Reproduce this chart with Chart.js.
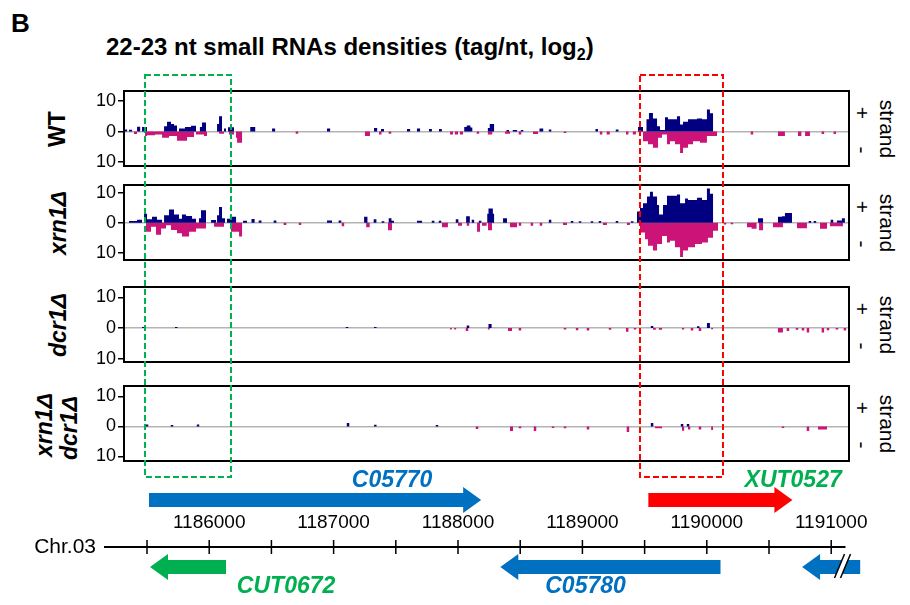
<!DOCTYPE html>
<html><head><meta charset="utf-8">
<script src="https://cdn.jsdelivr.net/npm/chart.js@4.4.0/dist/chart.umd.min.js"></script>
<style>
body{margin:0;width:910px;height:605px;background:#fff;position:relative;overflow:hidden;font-family:"Liberation Sans",Arial,sans-serif;color:#000;}
canvas{position:absolute;left:0;}
.t{position:absolute;white-space:nowrap;line-height:1;}
.r{position:absolute;white-space:nowrap;line-height:1;transform:translate(-50%,-50%) rotate(-90deg);}
.rc{position:absolute;white-space:nowrap;line-height:1;transform:translate(-50%,-50%) rotate(90deg);}
</style></head><body>
<div class="t" style="left:11px;top:10px;font-weight:bold;font-size:26px;">B</div>
<div class="t" style="left:106px;top:35px;font-weight:bold;font-size:24px;">22-23 nt small RNAs densities (tag/nt, log<sub style="font-size:16px;vertical-align:-5px;line-height:0">2</sub>)</div>
<div id="labels"></div>
<script>
// ---------------- DATA ----------------
const X_MIN = 1185315, X_MAX = 1191143;
const panelNames = ['WT', 'xrn1Δ', 'dcr1Δ', 'xrn1Δ dcr1Δ'];
const yTickValues = [-10, 0, 10];
// runs: [start bp, end bp, log2 density]
const wtPlus = [[1185315,1185340,0.7],[1185355,1185380,0.6],[1185420,1185445,1.6],[1185460,1185500,1.5],[1185637,1185661,1.7],[1185661,1185693,3.2],[1185693,1185717,2.5],[1185717,1185741,2],[1185757,1185805,1],[1185805,1185854,1.5],[1185854,1185894,1.9],[1185925,1185942,1.5],[1185942,1185974,3],[1186063,1186079,2.5],[1186079,1186103,5],[1186119,1186135,1],[1186151,1186199,1.4],[1186330,1186370,1.5],[1186505,1186530,1],[1186947,1186972,1],[1187325,1187350,1.2],[1187381,1187405,0.8],[1187590,1187615,0.8],[1187670,1187695,1],[1187767,1187790,0.8],[1187847,1187870,0.8],[1188050,1188070,1.5],[1188070,1188100,2],[1188100,1188115,1.3],[1188240,1188255,1.2],[1188255,1188290,2.5],[1188390,1188410,0.5],[1188440,1188475,0.5],[1188505,1188525,0.5],[1188655,1188685,1],[1188730,1188750,0.7],[1189105,1189125,0.8],[1189268,1189290,0.7],[1189447,1189487,1.5],[1189515,1189535,4],[1189535,1189567,6.1],[1189567,1189600,4.3],[1189600,1189624,1.7],[1189624,1189664,0.5],[1189664,1189688,4.7],[1189688,1189760,4],[1189760,1189785,5],[1189785,1189809,2.3],[1189809,1189849,3.2],[1189849,1189921,4],[1189921,1189961,4.3],[1189961,1190001,4],[1190001,1190025,7.2],[1190025,1190050,6]];
const wtMinus = [[1185395,1185420,0.8],[1185484,1185500,1.5],[1185500,1185564,1.2],[1185564,1185621,1],[1185621,1185677,2],[1185677,1185741,1.5],[1185741,1185822,3],[1185822,1185878,1.8],[1185894,1185958,1],[1185958,1185982,1.5],[1186079,1186119,0.7],[1186159,1186199,1],[1186215,1186224,2],[1186224,1186264,3.7],[1186695,1186715,0.7],[1187252,1187292,1.5],[1187365,1187385,1],[1187443,1187463,0.7],[1187936,1187960,1],[1187975,1188000,1],[1188015,1188040,1],[1188150,1188170,0.7],[1188240,1188275,1],[1188378,1188418,0.7],[1188488,1188508,1],[1188603,1188643,0.8],[1188850,1188870,0.5],[1189140,1189160,1],[1189195,1189220,1],[1189350,1189370,1],[1189405,1189430,1],[1189487,1189527,3.2],[1189527,1189567,4.2],[1189567,1189608,5.3],[1189608,1189640,2],[1189640,1189680,1],[1189680,1189704,4.2],[1189704,1189744,3.2],[1189744,1189785,4.2],[1189785,1189809,7],[1189809,1189849,5.3],[1189849,1189889,4.2],[1189889,1189945,3.2],[1189945,1190001,3.7],[1190001,1190082,1.5],[1190353,1190373,1],[1190572,1190628,1.5],[1190733,1190760,1.5],[1190790,1190829,1.5],[1190923,1190943,0.8],[1191019,1191039,0.8]];
const xrnPlus = [[1185355,1185420,0.6],[1185420,1185460,1],[1185476,1185500,3],[1185500,1185540,1.2],[1185540,1185580,2],[1185580,1185621,1],[1185637,1185677,2.5],[1185677,1185717,4.5],[1185717,1185757,2.8],[1185757,1185781,1.4],[1185781,1185814,2.8],[1185814,1185862,2.3],[1185862,1185894,1.4],[1185918,1185934,1.5],[1185934,1185974,4.2],[1186015,1186055,0.9],[1186063,1186079,2.5],[1186079,1186103,5.3],[1186103,1186127,1.5],[1186143,1186175,1.4],[1186175,1186216,2],[1186272,1186304,0.7],[1186340,1186365,1.3],[1186398,1186420,0.8],[1186518,1186540,0.8],[1186947,1186987,0.8],[1187040,1187062,0.8],[1187245,1187272,2],[1187322,1187344,1.2],[1187386,1187408,0.5],[1187443,1187465,1.5],[1187465,1187485,0.7],[1187670,1187711,0.7],[1187789,1187810,0.7],[1187845,1187866,0.7],[1187982,1188003,1.2],[1188065,1188095,2.2],[1188110,1188130,1],[1188167,1188188,0.7],[1188235,1188245,3],[1188245,1188280,4.8],[1188280,1188290,3],[1188362,1188394,1.5],[1188730,1188750,1],[1188907,1188927,0.6],[1188971,1188991,0.5],[1189067,1189087,0.5],[1189131,1189151,0.6],[1189268,1189288,0.6],[1189390,1189410,0.5],[1189439,1189463,3.8],[1189463,1189487,5],[1189487,1189519,6.6],[1189519,1189543,8.8],[1189543,1189567,10.4],[1189567,1189600,8.8],[1189600,1189616,6],[1189616,1189648,2.8],[1189648,1189680,6],[1189680,1189760,9.1],[1189760,1189785,9.5],[1189785,1189825,6.6],[1189825,1189849,8.2],[1189849,1189921,7.7],[1189921,1189961,8.4],[1189961,1190001,7.7],[1190001,1190025,11.5],[1190025,1190050,9.8],[1190412,1190452,1.5],[1190572,1190604,2],[1190604,1190628,2.2],[1190628,1190685,3.3],[1190819,1190839,0.6],[1190859,1190879,0.6],[1190996,1191016,1],[1191046,1191086,0.8],[1191086,1191110,1.5]];
const xrnMinus = [[1185492,1185532,3],[1185532,1185572,1.3],[1185572,1185613,4],[1185613,1185653,1.9],[1185653,1185693,0.8],[1185693,1185741,2.4],[1185741,1185781,3.5],[1185781,1185838,4.6],[1185838,1185894,3],[1185894,1185974,1.9],[1186039,1186119,1.3],[1186175,1186240,3],[1186240,1186264,4.6],[1186598,1186620,0.7],[1186720,1186740,0.7],[1187065,1187085,1.2],[1187262,1187290,1.5],[1187437,1187469,2.5],[1187871,1187919,1.5],[1188000,1188032,1],[1188070,1188090,1],[1188153,1188177,3],[1188193,1188230,1],[1188241,1188273,2.5],[1188418,1188474,1.5],[1188488,1188508,1],[1188584,1188604,1],[1188657,1188677,1],[1188844,1188876,0.7],[1189165,1189197,0.7],[1189358,1189382,0.7],[1189463,1189503,3.3],[1189503,1189527,5.5],[1189527,1189567,7.7],[1189567,1189600,9.3],[1189600,1189640,7.1],[1189640,1189680,4.4],[1189680,1189704,6.6],[1189704,1189744,6],[1189744,1189785,8.2],[1189785,1189809,11.5],[1189809,1189849,9.3],[1189849,1189905,8.2],[1189905,1189961,7.1],[1189961,1190009,6.6],[1190009,1190050,5],[1190050,1190090,2.7],[1190136,1190156,0.6],[1190192,1190212,0.5],[1190323,1190360,1.5],[1190360,1190400,2],[1190420,1190452,2.5],[1190532,1190612,1.5],[1190725,1190805,1.8],[1190910,1190966,2],[1190990,1191094,1.2]];
const dcrPlus = [[1185460,1185480,0.3],[1185725,1185745,0.3],[1187098,1187118,0.3],[1187325,1187345,0.3],[1188070,1188090,0.8],[1188245,1188270,1.3],[1189550,1189570,0.7],[1189921,1189941,0.6],[1190001,1190025,1.6]];
const dcrMinus = [[1187936,1187950,0.5],[1187970,1187985,0.5],[1188062,1188082,1],[1188240,1188255,0.5],[1188402,1188434,1],[1188488,1188508,0.8],[1188850,1188870,0.5],[1188947,1188967,0.7],[1189035,1189055,0.8],[1189212,1189232,0.6],[1189350,1189370,1.2],[1189413,1189433,0.5],[1189568,1189590,0.6],[1189615,1189640,0.6],[1189800,1189818,0.5],[1189871,1189891,0.8],[1189935,1189955,1],[1190035,1190050,0.4],[1190572,1190612,1.5],[1190642,1190662,1],[1190715,1190735,0.6],[1190763,1190783,0.8],[1190803,1190823,1.5],[1190923,1190943,1.5],[1190964,1190984,0.7],[1191036,1191056,0.5],[1191100,1191120,0.8]];
const xdPlus = [[1185490,1185510,0.7],[1185691,1185711,0.5],[1185900,1185920,0.7],[1187106,1187126,1.2],[1187325,1187345,0.6],[1187821,1187841,0.5],[1189550,1189570,1.2],[1189791,1189811,0.8],[1189839,1189859,0.8]];
const xdMinus = [[1188143,1188163,0.8],[1188418,1188442,1.5],[1188488,1188508,0.6],[1188609,1188629,1.5],[1188754,1188774,0.5],[1188850,1188870,0.6],[1189035,1189055,1],[1189356,1189376,1.8],[1189584,1189640,0.6],[1189800,1189818,1.4],[1189849,1189867,1],[1189935,1189955,1],[1190035,1190050,1.2],[1190602,1190622,0.5],[1190803,1190823,1.5],[1190894,1190966,1]];

// genes
const geneNames   = ['C05770', 'XUT0527', 'CUT0672', 'C05780', ''];
const geneStarts  = [1185516, 1189530, 1185524, 1188340, 1190766];
const geneEnds    = [1188186, 1190688, 1186135, 1190110, 1191233];
const geneStrands = ['+', '+', '-', '-', '-'];
const geneLabelPos = [1187470, 1190694, 1186618, 1189025, null];
// highlighted regions
const boxStarts = [1185484, 1189463];
const boxEnds   = [1186175, 1190130];
// chromosome axis
const chrTickValues = [1185500,1186000,1186500,1187000,1187500,1188000,1188500,1189000,1189500,1190000,1190500,1191000];
const chrTickLabels = ['1186000','1187000','1188000','1189000','1190000','1191000'];
const chrLabelValues = [1186000,1187000,1188000,1189000,1190000,1191000];
const chrName = 'Chr.03';

// ---------------- STYLE / LAYOUT ----------------
const NAVY = '#000080', MAG = '#cc1478';
const panelTops = [91, 185, 287, 386];
const panelH = 75;
const panelRanges = [[-11.3, 13.3], [-12.5, 12.7], [-11.1, 13.4], [-11.5, 13.5]];
const plusSeries = [wtPlus, xrnPlus, dcrPlus, xdPlus];
const minusSeries = [wtMinus, xrnMinus, dcrMinus, xdMinus];
const geneColors = ['#0070c0', '#ff0000', '#00b050', '#0070c0', '#0070c0'];
const geneLabelColors = ['#0070c0', '#00b050', '#00b050', '#0070c0', '#0070c0'];
const boxColors = ['#00b050', '#ff0000'];

function runsToPoints(runs, sign) {
  const pts = [{x: X_MIN, y: 0}];
  runs.forEach(([s, e, v]) => { pts.push({x: s, y: sign * v}); pts.push({x: e, y: 0}); });
  pts.push({x: X_MAX, y: 0});
  return pts;
}

const borderPlugin = {
  id: 'panelBorder',
  afterDraw(chart) {
    const a = chart.chartArea, ctx = chart.ctx;
    ctx.save(); ctx.lineWidth = 2; ctx.strokeStyle = '#000';
    ctx.strokeRect(a.left, a.top, a.right - a.left, a.bottom - a.top);
    ctx.restore();
  }
};

const PAD = 20;
panelTops.forEach((top, i) => {
  const c = document.createElement('canvas');
  c.width = 910; c.height = panelH + 2 * PAD;
  c.style.top = (top - PAD) + 'px';
  c.style.width = '910px'; c.style.height = (panelH + 2 * PAD) + 'px';
  document.body.appendChild(c);
  new Chart(c, {
    type: 'line',
    data: { datasets: [
      { data: runsToPoints(plusSeries[i], 1), stepped: true, fill: 'origin', backgroundColor: NAVY, borderColor: 'rgba(0,0,0,0)', borderWidth: 0, pointRadius: 0 },
      { data: runsToPoints(minusSeries[i], -1), stepped: true, fill: 'origin', backgroundColor: MAG, borderColor: 'rgba(0,0,0,0)', borderWidth: 0, pointRadius: 0 }
    ]},
    options: {
      responsive: false, animation: false, devicePixelRatio: 1,
      layout: { padding: { left: 0, right: 61, top: PAD, bottom: PAD } },
      plugins: { legend: { display: false }, tooltip: { enabled: false } },
      scales: {
        x: { type: 'linear', min: X_MIN, max: X_MAX, display: false },
        y: {
          min: panelRanges[i][0], max: panelRanges[i][1],
          afterBuildTicks: s => { s.ticks = yTickValues.map(v => ({ value: v })); },
          afterFit: s => { s.width = 124; },
          border: { display: false },
          grid: {
            drawOnChartArea: true, drawTicks: true, tickLength: 6, tickWidth: 1.5, tickColor: '#000',
            color: ctx => (ctx.tick && ctx.tick.value === 0) ? '#b4b4b4' : 'rgba(0,0,0,0)', lineWidth: 1.5
          },
          ticks: { color: '#000', padding: 2, font: { family: '"Liberation Sans", Arial', size: 18 }, callback: v => String(Math.abs(v)) }
        }
      }
    },
    plugins: [borderPlugin]
  });
});

// overlay: highlight boxes, genes, chromosome axis
const ov = document.createElement('canvas');
ov.width = 910; ov.height = 605; ov.style.top = '0px'; ov.style.width = '910px'; ov.style.height = '605px';
document.body.appendChild(ov);

function drawArrow(ctx, x0, x1, yc, strand, color) {
  const bh = 7, hh = 13, hl = 18;
  ctx.fillStyle = color; ctx.beginPath();
  if (strand === '+') {
    ctx.moveTo(x0, yc - bh); ctx.lineTo(x1 - hl, yc - bh); ctx.lineTo(x1 - hl, yc - hh); ctx.lineTo(x1, yc);
    ctx.lineTo(x1 - hl, yc + hh); ctx.lineTo(x1 - hl, yc + bh); ctx.lineTo(x0, yc + bh);
  } else {
    ctx.moveTo(x1, yc - bh); ctx.lineTo(x0 + hl, yc - bh); ctx.lineTo(x0 + hl, yc - hh); ctx.lineTo(x0, yc);
    ctx.lineTo(x0 + hl, yc + hh); ctx.lineTo(x0 + hl, yc + bh); ctx.lineTo(x1, yc + bh);
  }
  ctx.closePath(); ctx.fill();
}

const overlayPlugin = {
  id: 'overlay',
  afterDraw(chart) {
    const ctx = chart.ctx, xs = chart.scales.x;
    const px = v => xs.getPixelForValue(v);
    ctx.save();
    // dashed boxes
    ctx.lineWidth = 2; ctx.setLineDash([6, 3]);
    boxStarts.forEach((s, i) => {
      ctx.strokeStyle = boxColors[i];
      ctx.strokeRect(px(s), 75, px(boxEnds[i]) - px(s), 402);
    });
    ctx.setLineDash([]);
    // genes
    geneNames.forEach((n, i) => {
      const yc = geneStrands[i] === '+' ? 500 : 567;
      drawArrow(ctx, px(geneStarts[i]), px(geneEnds[i]), yc, geneStrands[i], geneColors[i]);
      if (n) {
        ctx.fillStyle = geneLabelColors[i];
        ctx.font = 'italic bold 23px "Liberation Sans", Arial';
        ctx.textAlign = 'center'; ctx.textBaseline = 'middle';
        ctx.fillText(n, px(geneLabelPos[i]), geneStrands[i] === '+' ? 481 : 587);
      }
    });
    // chromosome axis
    const yA = 547;
    ctx.strokeStyle = '#000'; ctx.lineWidth = 2;
    ctx.beginPath(); ctx.moveTo(104, yA); ctx.lineTo(px(1191115), yA); ctx.stroke();
    ctx.lineWidth = 1.5;
    chrTickValues.forEach(v => { ctx.beginPath(); ctx.moveTo(px(v), yA - 7); ctx.lineTo(px(v), yA + 7); ctx.stroke(); });
    ctx.fillStyle = '#000'; ctx.font = '19px "Liberation Sans", Arial';
    ctx.textAlign = 'center'; ctx.textBaseline = 'middle';
    chrLabelValues.forEach((v, i) => ctx.fillText(chrTickLabels[i], px(v), 523));
    ctx.textAlign = 'right'; ctx.font = '21px "Liberation Sans", Arial';
    ctx.fillText(chrName, 96, yA);
    // break marks
    const bx = px(1191115);
    ctx.fillStyle = '#fff'; ctx.beginPath();
    ctx.moveTo(bx - 11, 578); ctx.lineTo(bx - 1, 554); ctx.lineTo(bx + 5, 554); ctx.lineTo(bx - 5, 578); ctx.closePath(); ctx.fill();
    ctx.strokeStyle = '#000'; ctx.lineWidth = 1.5;
    ctx.beginPath(); ctx.moveTo(bx - 11, 578); ctx.lineTo(bx - 1, 554); ctx.stroke();
    ctx.beginPath(); ctx.moveTo(bx - 5, 578); ctx.lineTo(bx + 5, 554); ctx.stroke();
    ctx.restore();
  }
};

new Chart(ov, {
  type: 'scatter',
  data: { datasets: [{ data: [] }] },
  options: {
    responsive: false, animation: false, devicePixelRatio: 1,
    layout: { padding: { left: 124, right: 61, top: 0, bottom: 0 } },
    plugins: { legend: { display: false }, tooltip: { enabled: false } },
    scales: { x: { type: 'linear', min: X_MIN, max: X_MAX, display: false }, y: { display: false } }
  },
  plugins: [overlayPlugin]
});

// HTML text labels
const lab = document.getElementById('labels');
function addText(cls, txt, cx, cy, style) {
  const d = document.createElement('div'); d.className = cls; d.textContent = txt;
  d.style.left = cx + 'px'; d.style.top = cy + 'px'; d.style.cssText += style;
  lab.appendChild(d);
}
const rowStyle = 'font-weight:bold;font-size:23px;';
addText('r', panelNames[0], 57, 129, rowStyle);
addText('r', panelNames[1], 58, 223, rowStyle + 'font-style:italic;');
addText('r', panelNames[2], 58, 325, rowStyle + 'font-style:italic;');
const p4 = panelNames[3].split(' ');
addText('r', p4[0], 44, 425, rowStyle + 'font-style:italic;');
addText('r', p4[1], 69, 428, rowStyle + 'font-style:italic;');
panelTops.forEach(t => {
  const cy = t + panelH / 2;
  addText('rc', '+', 862, cy - 16, 'font-size:21px;');
  addText('rc', '-', 862, cy + 21, 'font-size:21px;');
  addText('rc', 'strand', 887, cy, 'font-size:21px;');
});
</script>
</body></html>
